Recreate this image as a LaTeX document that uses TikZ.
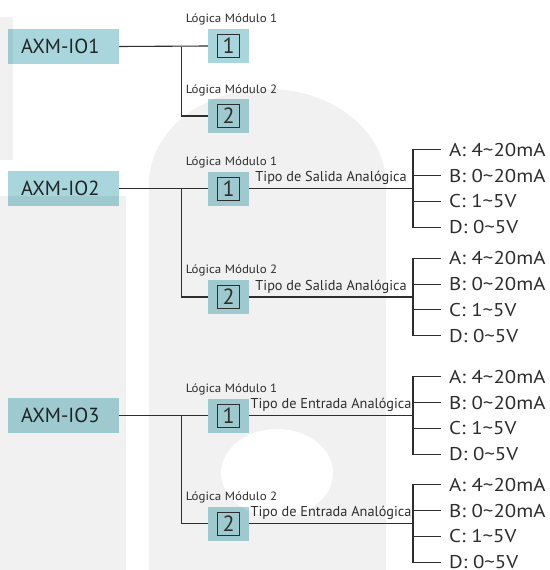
\documentclass[tikz,border=0pt]{standalone}
\usepackage{fontspec}
\setmainfont{PT Sans}
\newfontfamily\lblfont{PT Sans}[FakeStretch=1.08]
\newfontfamily\optfont{PT Sans}[FakeStretch=1.13]
\usetikzlibrary{calc}
\definecolor{bgg}{HTML}{F0F1F0}
\definecolor{tealb}{HTML}{A8D6DC}
\definecolor{ink}{HTML}{2E2E2E}
\tikzset{
  iobox/.style={fill=tealb, blend mode=multiply, minimum height=35pt, text width=85pt,
    inner xsep=13pt, inner ysep=0pt, align=left, text height=14.3pt, text depth=0pt,
    font=\fontsize{20.4}{22}\selectfont, text=ink},
  modbox/.style={fill=tealb, blend mode=multiply, minimum width=41pt, minimum height=34pt, inner sep=0pt},
  digitbox/.style={draw=ink, line width=0.9pt, minimum width=22pt, minimum height=23pt,
    inner sep=0pt, font=\fontsize{22}{24}\selectfont, text=ink},
  modlabel/.style={anchor=base, font=\lblfont\fontsize{12}{14}\selectfont, text=ink, inner sep=0pt},
  tipolabel/.style={anchor=base, font=\fontsize{14.3}{16}\selectfont, text=ink, inner sep=0pt},
  optlabel/.style={anchor=west, font=\optfont\fontsize{18.5}{20}\selectfont, text=ink, inner sep=0pt,
    text height=13pt, text depth=0pt},
  conn/.style={draw=ink, line width=1.1pt},
}
\newcommand{\tl}{\textasciitilde}
\begin{document}
\begin{tikzpicture}[x=1pt, y=-1pt]
\useasboundingbox (0,0) rectangle (549,570);
\fill[white] (0,0) rectangle (549,570);
% background shapes
\fill[bgg] (0,17) rectangle (12.5,160);
\fill[bgg] (0,196) rectangle (126,570);
\fill[bgg] (149,570) -- (149,184) .. controls (149,131.5) and (202.1,89) .. (267.5,89)
  .. controls (332.9,89) and (386,131.5) .. (386,184) -- (386,570) -- cycle;
\fill[white] (277,473) ellipse [x radius=56pt, y radius=44pt];

% ---------- section 1 ----------
\node[iobox] (io1) at (63.5,46.5) {AXM-IO1};
\node[modbox] (m11) at (228.5,46) {};
\node[digitbox] (d11) at (m11) {1};
\node[modbox] (m12) at (228.5,116) {};
\node[digitbox] (d12) at (m12) {2};
\node[modlabel] (l11) at (231.5,23) {Lógica Módulo 1};
\node[modlabel] (l12) at (231.5,93) {Lógica Módulo 2};
\coordinate (j1) at (181.5,46.5);
\draw[conn] (io1.east) -- (m11.west);
\draw[conn] (j1) |- (m12.west);

% ---------- section 2 ----------
\node[iobox] (io2) at (63.5,188.5) {AXM-IO2};
\node[modbox] (m21) at (228.5,188.5) {};
\node[digitbox] (d21) at (m21) {1};
\node[modbox] (m22) at (228.5,297) {};
\node[digitbox] (d22) at (m22) {2};
\node[modlabel] (l21) at (231.5,165) {Lógica Módulo 1};
\node[modlabel] (l22) at (231.5,273.5) {Lógica Módulo 2};
\coordinate (j2) at (181.5,188.5);
\draw[conn] (io2.east) -- (m21.west);
\draw[conn] (j2) |- (m22.west);

% ---------- section 3 ----------
\node[iobox] (io3) at (63.5,415.5) {AXM-IO3};
\node[modbox] (m31) at (228.5,415.5) {};
\node[digitbox] (d31) at (m31) {1};
\node[modbox] (m32) at (228.5,523.5) {};
\node[digitbox] (d32) at (m32) {2};
\node[modlabel] (l31) at (231.5,392) {Lógica Módulo 1};
\node[modlabel] (l32) at (231.5,500.5) {Lógica Módulo 2};
\coordinate (j3) at (181.5,415.5);
\draw[conn] (io3.east) -- (m31.west);
\draw[conn] (j3) |- (m32.west);

% ---------- option brackets ----------
\foreach \n/\cy/\m/\tipo in {21/188.5/m21/Salida, 22/297/m22/Salida, 31/415.5/m31/Entrada, 32/523.5/m32/Entrada}{
  \coordinate (b\n) at (413,\cy);
  \node[optlabel] (o\n a) at (449,\cy-38.7) {A: 4\tl20mA};
  \node[optlabel] (o\n b) at (449,\cy-12.9) {B: 0\tl20mA};
  \node[optlabel] (o\n c) at (449,\cy+12.9) {C: 1\tl5V};
  \node[optlabel] (o\n d) at (449,\cy+38.7) {D: 0\tl5V};
  \draw[conn] (\m.east) -- (b\n) node[tipolabel, midway, yshift=7pt] {Tipo de \tipo\ Analógica};
  \draw[conn] ([xshift=-8pt]o\n a.west) -| (b\n) |- ([xshift=-8pt]o\n d.west);
  \draw[conn] (o\n b.west -| b\n) -- ([xshift=-8pt]o\n b.west);
  \draw[conn] (o\n c.west -| b\n) -- ([xshift=-8pt]o\n c.west);
}
\end{tikzpicture}
\end{document}
